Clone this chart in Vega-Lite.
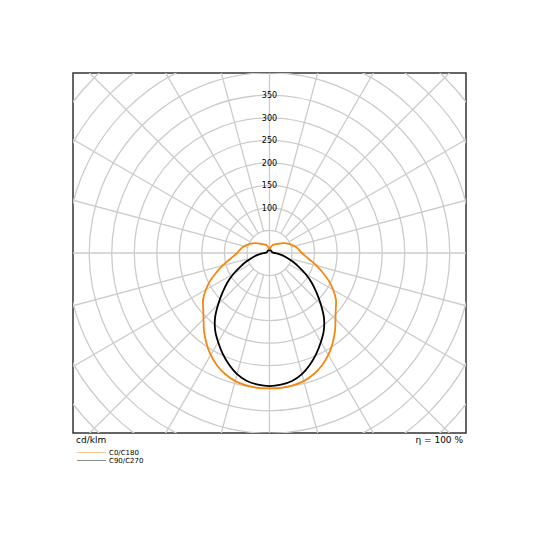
{
  "$schema": "https://vega.github.io/schema/vega-lite/v6.json",
  "width": 393,
  "height": 360,
  "autosize": "none",
  "padding": {"left": 73, "top": 73, "right": 74, "bottom": 107},
  "background": "white",
  "config": {
    "font": "DejaVu Sans",
    "view": {"stroke": "#333333", "strokeWidth": 1.5},
    "legend": {"padding": 0}
  },
  "datasets": {
    "rings": [
      {"r": 50}, {"r": 100}, {"r": 150}, {"r": 200}, {"r": 250}, {"r": 300},
      {"r": 350}, {"r": 400}, {"r": 450}, {"r": 500}, {"r": 550}, {"r": 600}
    ],
    "spokes": [
      {"angle": 0, "r0": 0}, {"angle": 15, "r0": 50}, {"angle": 30, "r0": 50},
      {"angle": 45, "r0": 50}, {"angle": 60, "r0": 50}, {"angle": 75, "r0": 50},
      {"angle": 90, "r0": 0}, {"angle": 105, "r0": 50}, {"angle": 120, "r0": 50},
      {"angle": 135, "r0": 50}, {"angle": 150, "r0": 50}, {"angle": 165, "r0": 50},
      {"angle": 180, "r0": 0}, {"angle": 195, "r0": 50}, {"angle": 210, "r0": 50},
      {"angle": 225, "r0": 50}, {"angle": 240, "r0": 50}, {"angle": 255, "r0": 50},
      {"angle": 270, "r0": 0}, {"angle": 285, "r0": 50}, {"angle": 300, "r0": 50},
      {"angle": 315, "r0": 50}, {"angle": 330, "r0": 50}, {"angle": 345, "r0": 50}
    ],
    "ticks": [
      {"v": 100}, {"v": 150}, {"v": 200}, {"v": 250}, {"v": 300}, {"v": 350}
    ],
    "curves": [
      {"series": "C0/C180", "angle": -180, "cd": 8},
      {"series": "C0/C180", "angle": -175, "cd": 10},
      {"series": "C0/C180", "angle": -170, "cd": 12},
      {"series": "C0/C180", "angle": -165, "cd": 15},
      {"series": "C0/C180", "angle": -160, "cd": 18},
      {"series": "C0/C180", "angle": -155, "cd": 20},
      {"series": "C0/C180", "angle": -150, "cd": 22},
      {"series": "C0/C180", "angle": -145, "cd": 24},
      {"series": "C0/C180", "angle": -140, "cd": 26},
      {"series": "C0/C180", "angle": -135, "cd": 29},
      {"series": "C0/C180", "angle": -130, "cd": 33},
      {"series": "C0/C180", "angle": -125, "cd": 38},
      {"series": "C0/C180", "angle": -120, "cd": 43},
      {"series": "C0/C180", "angle": -115, "cd": 48},
      {"series": "C0/C180", "angle": -110, "cd": 53},
      {"series": "C0/C180", "angle": -105, "cd": 58},
      {"series": "C0/C180", "angle": -100, "cd": 63},
      {"series": "C0/C180", "angle": -95, "cd": 67},
      {"series": "C0/C180", "angle": -90, "cd": 72},
      {"series": "C0/C180", "angle": -85, "cd": 80},
      {"series": "C0/C180", "angle": -80, "cd": 92},
      {"series": "C0/C180", "angle": -75, "cd": 108},
      {"series": "C0/C180", "angle": -70, "cd": 125},
      {"series": "C0/C180", "angle": -65, "cd": 145},
      {"series": "C0/C180", "angle": -60, "cd": 163},
      {"series": "C0/C180", "angle": -55, "cd": 180},
      {"series": "C0/C180", "angle": -50, "cd": 192},
      {"series": "C0/C180", "angle": -45, "cd": 207},
      {"series": "C0/C180", "angle": -40, "cd": 226},
      {"series": "C0/C180", "angle": -35, "cd": 244},
      {"series": "C0/C180", "angle": -30, "cd": 261},
      {"series": "C0/C180", "angle": -25, "cd": 275},
      {"series": "C0/C180", "angle": -20, "cd": 286},
      {"series": "C0/C180", "angle": -15, "cd": 294},
      {"series": "C0/C180", "angle": -10, "cd": 298},
      {"series": "C0/C180", "angle": -5, "cd": 300},
      {"series": "C0/C180", "angle": 0, "cd": 300},
      {"series": "C0/C180", "angle": 5, "cd": 300},
      {"series": "C0/C180", "angle": 10, "cd": 298},
      {"series": "C0/C180", "angle": 15, "cd": 294},
      {"series": "C0/C180", "angle": 20, "cd": 286},
      {"series": "C0/C180", "angle": 25, "cd": 275},
      {"series": "C0/C180", "angle": 30, "cd": 261},
      {"series": "C0/C180", "angle": 35, "cd": 244},
      {"series": "C0/C180", "angle": 40, "cd": 226},
      {"series": "C0/C180", "angle": 45, "cd": 207},
      {"series": "C0/C180", "angle": 50, "cd": 192},
      {"series": "C0/C180", "angle": 55, "cd": 180},
      {"series": "C0/C180", "angle": 60, "cd": 163},
      {"series": "C0/C180", "angle": 65, "cd": 145},
      {"series": "C0/C180", "angle": 70, "cd": 125},
      {"series": "C0/C180", "angle": 75, "cd": 108},
      {"series": "C0/C180", "angle": 80, "cd": 92},
      {"series": "C0/C180", "angle": 85, "cd": 80},
      {"series": "C0/C180", "angle": 90, "cd": 72},
      {"series": "C0/C180", "angle": 95, "cd": 67},
      {"series": "C0/C180", "angle": 100, "cd": 63},
      {"series": "C0/C180", "angle": 105, "cd": 58},
      {"series": "C0/C180", "angle": 110, "cd": 53},
      {"series": "C0/C180", "angle": 115, "cd": 48},
      {"series": "C0/C180", "angle": 120, "cd": 43},
      {"series": "C0/C180", "angle": 125, "cd": 38},
      {"series": "C0/C180", "angle": 130, "cd": 33},
      {"series": "C0/C180", "angle": 135, "cd": 29},
      {"series": "C0/C180", "angle": 140, "cd": 26},
      {"series": "C0/C180", "angle": 145, "cd": 24},
      {"series": "C0/C180", "angle": 150, "cd": 22},
      {"series": "C0/C180", "angle": 155, "cd": 20},
      {"series": "C0/C180", "angle": 160, "cd": 18},
      {"series": "C0/C180", "angle": 165, "cd": 15},
      {"series": "C0/C180", "angle": 170, "cd": 12},
      {"series": "C0/C180", "angle": 175, "cd": 10},
      {"series": "C0/C180", "angle": 180, "cd": 8},
      {"series": "C90/C270", "angle": -180, "cd": 6},
      {"series": "C90/C270", "angle": -160, "cd": 6},
      {"series": "C90/C270", "angle": -140, "cd": 6},
      {"series": "C90/C270", "angle": -120, "cd": 6},
      {"series": "C90/C270", "angle": -110, "cd": 6},
      {"series": "C90/C270", "angle": -100, "cd": 7},
      {"series": "C90/C270", "angle": -95, "cd": 8},
      {"series": "C90/C270", "angle": -90, "cd": 11},
      {"series": "C90/C270", "angle": -85, "cd": 18},
      {"series": "C90/C270", "angle": -80, "cd": 28},
      {"series": "C90/C270", "angle": -75, "cd": 40},
      {"series": "C90/C270", "angle": -70, "cd": 54},
      {"series": "C90/C270", "angle": -65, "cd": 71},
      {"series": "C90/C270", "angle": -60, "cd": 92},
      {"series": "C90/C270", "angle": -55, "cd": 114},
      {"series": "C90/C270", "angle": -50, "cd": 136},
      {"series": "C90/C270", "angle": -45, "cd": 161},
      {"series": "C90/C270", "angle": -40, "cd": 188},
      {"series": "C90/C270", "angle": -35, "cd": 210},
      {"series": "C90/C270", "angle": -30, "cd": 228},
      {"series": "C90/C270", "angle": -25, "cd": 246},
      {"series": "C90/C270", "angle": -20, "cd": 263},
      {"series": "C90/C270", "angle": -15, "cd": 278},
      {"series": "C90/C270", "angle": -10, "cd": 288},
      {"series": "C90/C270", "angle": -5, "cd": 293},
      {"series": "C90/C270", "angle": 0, "cd": 295},
      {"series": "C90/C270", "angle": 5, "cd": 293},
      {"series": "C90/C270", "angle": 10, "cd": 288},
      {"series": "C90/C270", "angle": 15, "cd": 278},
      {"series": "C90/C270", "angle": 20, "cd": 263},
      {"series": "C90/C270", "angle": 25, "cd": 246},
      {"series": "C90/C270", "angle": 30, "cd": 228},
      {"series": "C90/C270", "angle": 35, "cd": 210},
      {"series": "C90/C270", "angle": 40, "cd": 188},
      {"series": "C90/C270", "angle": 45, "cd": 161},
      {"series": "C90/C270", "angle": 50, "cd": 136},
      {"series": "C90/C270", "angle": 55, "cd": 114},
      {"series": "C90/C270", "angle": 60, "cd": 92},
      {"series": "C90/C270", "angle": 65, "cd": 71},
      {"series": "C90/C270", "angle": 70, "cd": 54},
      {"series": "C90/C270", "angle": 75, "cd": 40},
      {"series": "C90/C270", "angle": 80, "cd": 28},
      {"series": "C90/C270", "angle": 85, "cd": 18},
      {"series": "C90/C270", "angle": 90, "cd": 11},
      {"series": "C90/C270", "angle": 95, "cd": 8},
      {"series": "C90/C270", "angle": 100, "cd": 7},
      {"series": "C90/C270", "angle": 110, "cd": 6},
      {"series": "C90/C270", "angle": 120, "cd": 6},
      {"series": "C90/C270", "angle": 140, "cd": 6},
      {"series": "C90/C270", "angle": 160, "cd": 6},
      {"series": "C90/C270", "angle": 180, "cd": 6}
    ]
  },
  "layer": [
    {
      "data": {"name": "rings"},
      "mark": {
        "type": "point",
        "shape": "circle",
        "filled": false,
        "stroke": "#cccccc",
        "strokeWidth": 1.3,
        "opacity": 1,
        "clip": true
      },
      "encoding": {
        "x": {"datum": 0, "type": "quantitative", "scale": {"domain": [-436, 436], "nice": false, "zero": false}, "axis": null},
        "y": {"datum": 0, "type": "quantitative", "scale": {"domain": [-399, 399], "nice": false, "zero": false}, "axis": null},
        "size": {
          "field": "r",
          "type": "quantitative",
          "scale": {"type": "pow", "exponent": 2, "domain": [0, 436], "range": [0, 154449], "zero": true},
          "legend": null
        }
      }
    },
    {
      "data": {"name": "spokes"},
      "transform": [
        {"calculate": "datum.r0 * sin(datum.angle * PI / 180)", "as": "xa"},
        {"calculate": "datum.r0 * cos(datum.angle * PI / 180)", "as": "ya"},
        {"calculate": "700 * sin(datum.angle * PI / 180)", "as": "xb"},
        {"calculate": "700 * cos(datum.angle * PI / 180)", "as": "yb"}
      ],
      "mark": {"type": "rule", "stroke": "#cccccc", "strokeWidth": 1.3, "clip": true},
      "encoding": {
        "x": {"field": "xa", "type": "quantitative"},
        "y": {"field": "ya", "type": "quantitative"},
        "x2": {"field": "xb"},
        "y2": {"field": "yb"}
      }
    },
    {
      "data": {"name": "ticks"},
      "mark": {"type": "text", "fontSize": 8, "color": "black", "align": "center", "baseline": "middle", "dy": 1},
      "encoding": {
        "x": {"datum": 0, "type": "quantitative"},
        "y": {"field": "v", "type": "quantitative"},
        "text": {"field": "v", "type": "quantitative"}
      }
    },
    {
      "data": {"name": "curves"},
      "transform": [
        {"calculate": "datum.cd * sin(datum.angle * PI / 180)", "as": "px"},
        {"calculate": "-datum.cd * cos(datum.angle * PI / 180)", "as": "py"}
      ],
      "mark": {"type": "line", "strokeWidth": 1.8, "interpolate": "catmull-rom", "clip": true},
      "encoding": {
        "x": {"field": "px", "type": "quantitative"},
        "y": {"field": "py", "type": "quantitative"},
        "order": {"field": "angle", "type": "quantitative"},
        "color": {
          "field": "series",
          "type": "nominal",
          "scale": {"domain": ["C0/C180", "C90/C270"], "range": ["#f5860f", "#000000"]},
          "legend": {
            "orient": "none",
            "legendX": 15,
            "legendY": 376,
            "title": null,
            "symbolType": "M-5,0H5",
            "symbolSize": 34,
            "symbolStrokeWidth": 1,
            "symbolOpacity": 0.45,
            "labelFontSize": 7,
            "labelColor": "black",
            "labelOffset": 14,
            "rowPadding": 0
          }
        }
      }
    },
    {
      "data": {"values": [{"label": "cd/klm"}]},
      "mark": {"type": "text", "align": "left", "baseline": "top", "dx": 3, "dy": 3, "fontSize": 9, "color": "black"},
      "encoding": {
        "x": {"datum": -436, "type": "quantitative"},
        "y": {"datum": -399, "type": "quantitative"},
        "text": {"field": "label"}
      }
    },
    {
      "data": {"values": [{"label": "η = 100 %"}]},
      "mark": {"type": "text", "align": "right", "baseline": "top", "dx": -3, "dy": 3, "fontSize": 9, "color": "black"},
      "encoding": {
        "x": {"datum": 436, "type": "quantitative"},
        "y": {"datum": -399, "type": "quantitative"},
        "text": {"field": "label"}
      }
    }
  ]
}
